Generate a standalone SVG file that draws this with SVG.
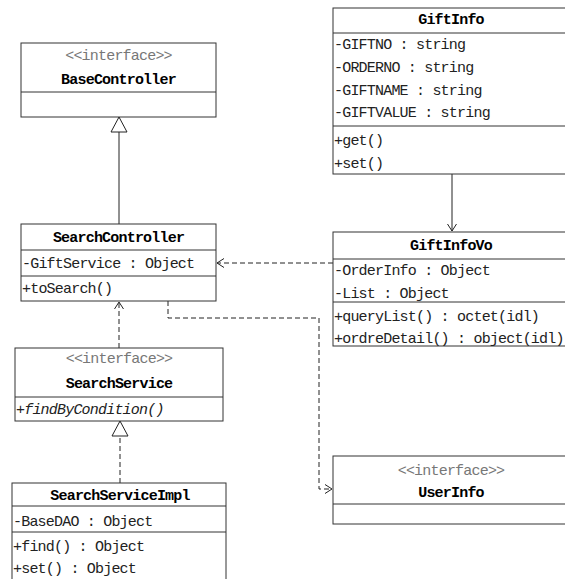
<svg xmlns="http://www.w3.org/2000/svg" width="565" height="579" viewBox="0 0 565 579">
<style>
.box{fill:#fff;stroke:#333;stroke-width:1}
.div{stroke:#333;stroke-width:1}
.t{font-family:"Liberation Mono",monospace;font-size:15px;letter-spacing:-0.8px;fill:#222}
.st{font-family:"Liberation Mono",monospace;font-size:15px;letter-spacing:-0.8px;fill:#777;text-anchor:middle}
.h{font-family:"Liberation Mono",monospace;font-size:15px;letter-spacing:-0.8px;font-weight:bold;fill:#000;text-anchor:middle}
.it{font-style:italic}
.ln{fill:none;stroke:#222;stroke-width:1}
.dash{stroke-dasharray:5,3}
</style>
<defs>
<marker id="open" markerUnits="userSpaceOnUse" markerWidth="12" markerHeight="12" viewBox="-8 -6 10 12" refX="0" refY="0" orient="auto">
<path d="M-7,-4.5 L0,0 L-7,4.5" fill="none" stroke="#222" stroke-width="1"/>
</marker>
<marker id="tri" markerUnits="userSpaceOnUse" markerWidth="20" markerHeight="20" viewBox="-16 -10 18 20" refX="0" refY="0" orient="auto">
<path d="M-15,-8 L0,0 L-15,8 Z" fill="#fff" stroke="#222" stroke-width="1"/>
</marker>
</defs>

<g id="connectors">
<path class="ln" d="M119,224 L119,117" marker-end="url(#tri)"/>
<path class="ln dash" d="M120,483 L120,421" marker-end="url(#tri)"/>
<path class="ln dash" d="M119,348 L119,302" marker-end="url(#open)"/>
<path class="ln dash" d="M333,263 L217,263" marker-end="url(#open)"/>
<path class="ln" d="M452,174 L452,231" marker-end="url(#open)"/>
<path class="ln dash" d="M168,301 L168,318 L319,318 L319,489 L332,489" marker-end="url(#open)"/>
</g>

<g id="BaseController">
<rect class="box" x="21" y="43" width="195" height="74"/>
<line class="div" x1="21" y1="92" x2="216" y2="92"/>
<text class="st" x="118.5" y="60">&lt;&lt;interface&gt;&gt;</text>
<text class="h" x="118.5" y="84">BaseController</text>
</g>

<g id="GiftInfo">
<rect class="box" x="333" y="8" width="236" height="166"/>
<line class="div" x1="333" y1="33" x2="569" y2="33"/>
<line class="div" x1="333" y1="126" x2="569" y2="126"/>
<text class="h" x="451" y="24">GiftInfo</text>
<text class="t" x="334" y="49">-GIFTNO : string</text>
<text class="t" x="334" y="72">-ORDERNO : string</text>
<text class="t" x="334" y="95">-GIFTNAME : string</text>
<text class="t" x="334" y="117">-GIFTVALUE : string</text>
<text class="t" x="334" y="145">+get()</text>
<text class="t" x="334" y="168">+set()</text>
</g>

<g id="SearchController">
<rect class="box" x="21" y="224" width="195" height="77"/>
<line class="div" x1="21" y1="250" x2="216" y2="250"/>
<line class="div" x1="21" y1="276" x2="216" y2="276"/>
<text class="h" x="118.5" y="242">SearchController</text>
<text class="t" x="22" y="268">-GiftService : Object</text>
<text class="t" x="22" y="293">+toSearch()</text>
</g>

<g id="GiftInfoVo">
<rect class="box" x="333" y="232" width="236" height="114"/>
<line class="div" x1="333" y1="259" x2="569" y2="259"/>
<line class="div" x1="333" y1="302" x2="569" y2="302"/>
<text class="h" x="451" y="250">GiftInfoVo</text>
<text class="t" x="334" y="275">-OrderInfo : Object</text>
<text class="t" x="334" y="298">-List : Object</text>
<text class="t" x="334" y="321">+queryList() : octet(idl)</text>
<text class="t" x="334" y="343">+ordreDetail() : object(idl)</text>
</g>

<g id="SearchService">
<rect class="box" x="15" y="348" width="208" height="73"/>
<line class="div" x1="15" y1="397" x2="223" y2="397"/>
<text class="st" x="119" y="363">&lt;&lt;interface&gt;&gt;</text>
<text class="h" x="119" y="388">SearchService</text>
<text class="t it" x="16" y="414">+findByCondition()</text>
</g>

<g id="SearchServiceImpl">
<rect class="box" x="12" y="483" width="214" height="100"/>
<line class="div" x1="12" y1="506" x2="226" y2="506"/>
<line class="div" x1="12" y1="532" x2="226" y2="532"/>
<text class="h" x="120" y="500">SearchServiceImpl</text>
<text class="t" x="13" y="526">-BaseDAO : Object</text>
<text class="t" x="13" y="551">+find() : Object</text>
<text class="t" x="13" y="573">+set() : Object</text>
</g>

<g id="UserInfo">
<rect class="box" x="333" y="456" width="236" height="68"/>
<line class="div" x1="333" y1="504" x2="569" y2="504"/>
<text class="st" x="451" y="475">&lt;&lt;interface&gt;&gt;</text>
<text class="h" x="451" y="497">UserInfo</text>
</g>
</svg>
